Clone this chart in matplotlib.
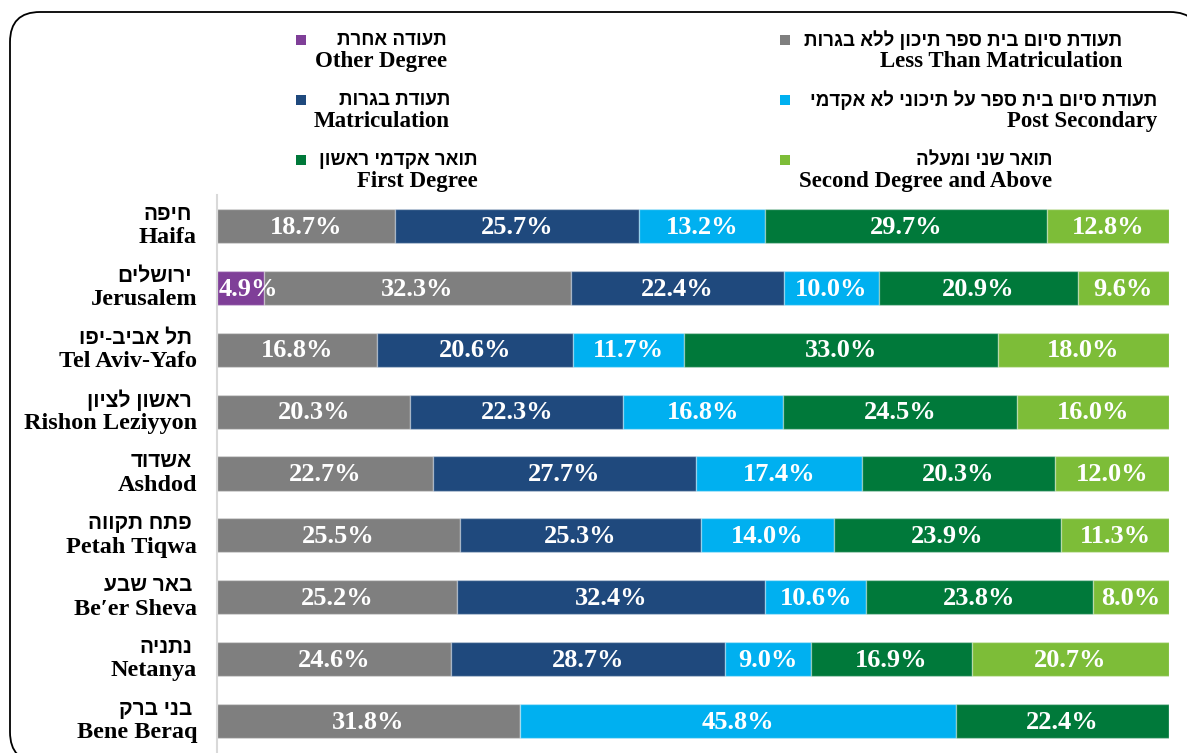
import matplotlib.pyplot as plt
import numpy as np
from matplotlib.patches import FancyBboxPatch, Rectangle

# Cities (Hebrew / English) and education shares per city, in %
cities_he = ["חיפה", "ירושלים", "תל אביב-יפו", "ראשון לציון", "אשדוד",
             "פתח תקווה", "באר שבע", "נתניה", "בני ברק"]
cities_en = ["Haifa", "Jerusalem", "Tel Aviv-Yafo", "Rishon Leziyyon", "Ashdod",
             "Petah Tiqwa", "Be\u2032er Sheva", "Netanya", "Bene Beraq"]

other_degree = [0, 4.9, 0, 0, 0, 0, 0, 0, 0]
less_than_matric = [18.7, 32.3, 16.8, 20.3, 22.7, 25.5, 25.2, 24.6, 31.8]
matriculation = [25.7, 22.4, 20.6, 22.3, 27.7, 25.3, 32.4, 28.7, 0]
post_secondary = [13.2, 10.0, 11.7, 16.8, 17.4, 14.0, 10.6, 9.0, 45.8]
first_degree = [29.7, 20.9, 33.0, 24.5, 20.3, 23.9, 23.8, 16.9, 22.4]
second_degree = [12.8, 9.6, 18.0, 16.0, 12.0, 11.3, 8.0, 20.7, 0]

series = [other_degree, less_than_matric, matriculation,
          post_secondary, first_degree, second_degree]
colors = ["#7f3f98", "#7f7f7f", "#1f497d", "#00b0f0", "#00793a", "#7dbd38"]

legend_he = ["תעודה אחרת", "תעודת סיום בית ספר תיכון ללא בגרות", "תעודת בגרות",
             "תעודת סיום בית ספר על תיכוני לא אקדמי", "תואר אקדמי ראשון", "תואר שני ומעלה"]
legend_en = ["Other Degree", "Less Than Matriculation", "Matriculation",
             "Post Secondary", "First Degree", "Second Degree and Above"]

HEB = ["Liberation Sans", "DejaVu Sans"]
SERIF = ["Liberation Serif", "DejaVu Serif"]


def heb(s):
    # matplotlib has no bidi support, so lay Hebrew out right-to-left by hand
    return s[::-1]


W, H = 1187, 753
fig = plt.figure(figsize=(W / 100, H / 100), dpi=100)

# background layer in pixel units for the frame and legend
bg = fig.add_axes([0, 0, 1, 1])
bg.set_xlim(0, W)
bg.set_ylim(H, 0)
bg.axis("off")
frame = FancyBboxPatch((10, 12), 1190, 750, boxstyle="round,pad=0,rounding_size=30",
                       fc="white", ec="black", lw=1.3, clip_on=False, zorder=0)
bg.add_patch(frame)

# legend: two columns, marker left of the Hebrew text, English line below
leg_pos = [(301, 447, 40), (785, 1122, 40), (301, 450, 100),
           (785, 1157, 100), (301, 478, 160), (785, 1052, 160)]
for (mx, rx, y), c, he, en in zip(leg_pos, colors, legend_he, legend_en):
    bg.add_patch(Rectangle((mx - 5, y - 5), 10, 10, fc=c, ec="none"))
    bg.text(rx, y, heb(he), family=HEB, weight="bold", fontsize=13.5,
            ha="right", va="center")
    bg.text(rx, y + 21, en, family=SERIF, weight="bold", fontsize=16.5,
            ha="right", va="center")

# stacked 100% bars
ax = fig.add_axes([217 / W, 1 - 752 / H, (1169 - 217) / W, (752 - 195) / H])
data = np.array(series, dtype=float)
totals = data.sum(axis=0)
shares = data / totals * 100
y = np.arange(len(cities_en))
left = np.zeros(len(cities_en))
for vals, sh, c in zip(data, shares, colors):
    ax.barh(y, sh, left=left, height=0.55, color=c,
            edgecolor=(1, 1, 1, 0.35), linewidth=1)
    for i in range(len(y)):
        if vals[i] <= 0:
            continue
        # narrow segments get a left-aligned label so it stays inside the axis
        if sh[i] < 6:
            tx, ha = left[i] + 0.2, "left"
        else:
            tx, ha = left[i] + sh[i] / 2, "center"
        ax.text(tx, y[i] + 0.02, f"{vals[i]:.1f}%", color="white",
                family=SERIF, weight="bold", fontsize=19, ha=ha, va="center")
    left += sh

ax.set_xlim(0, 100)
ax.set_ylim(len(y) - 0.5, -0.5)
ax.set_xticks([])
ax.set_yticks([])
for s in ["top", "right", "bottom"]:
    ax.spines[s].set_visible(False)
ax.spines["left"].set_color("#d9d9d9")
ax.spines["left"].set_linewidth(1.5)
ax.patch.set_alpha(0)

# city labels: Hebrew above English, right-aligned
for i in range(len(y)):
    ax.text(-2.6, y[i] - 0.19, heb(cities_he[i]), family=HEB, weight="bold",
            fontsize=15, ha="right", va="center")
    ax.text(-2.1, y[i] + 0.19, cities_en[i], family=SERIF, weight="bold",
            fontsize=17.5, ha="right", va="center")

fig.savefig("out.png", dpi=100)
